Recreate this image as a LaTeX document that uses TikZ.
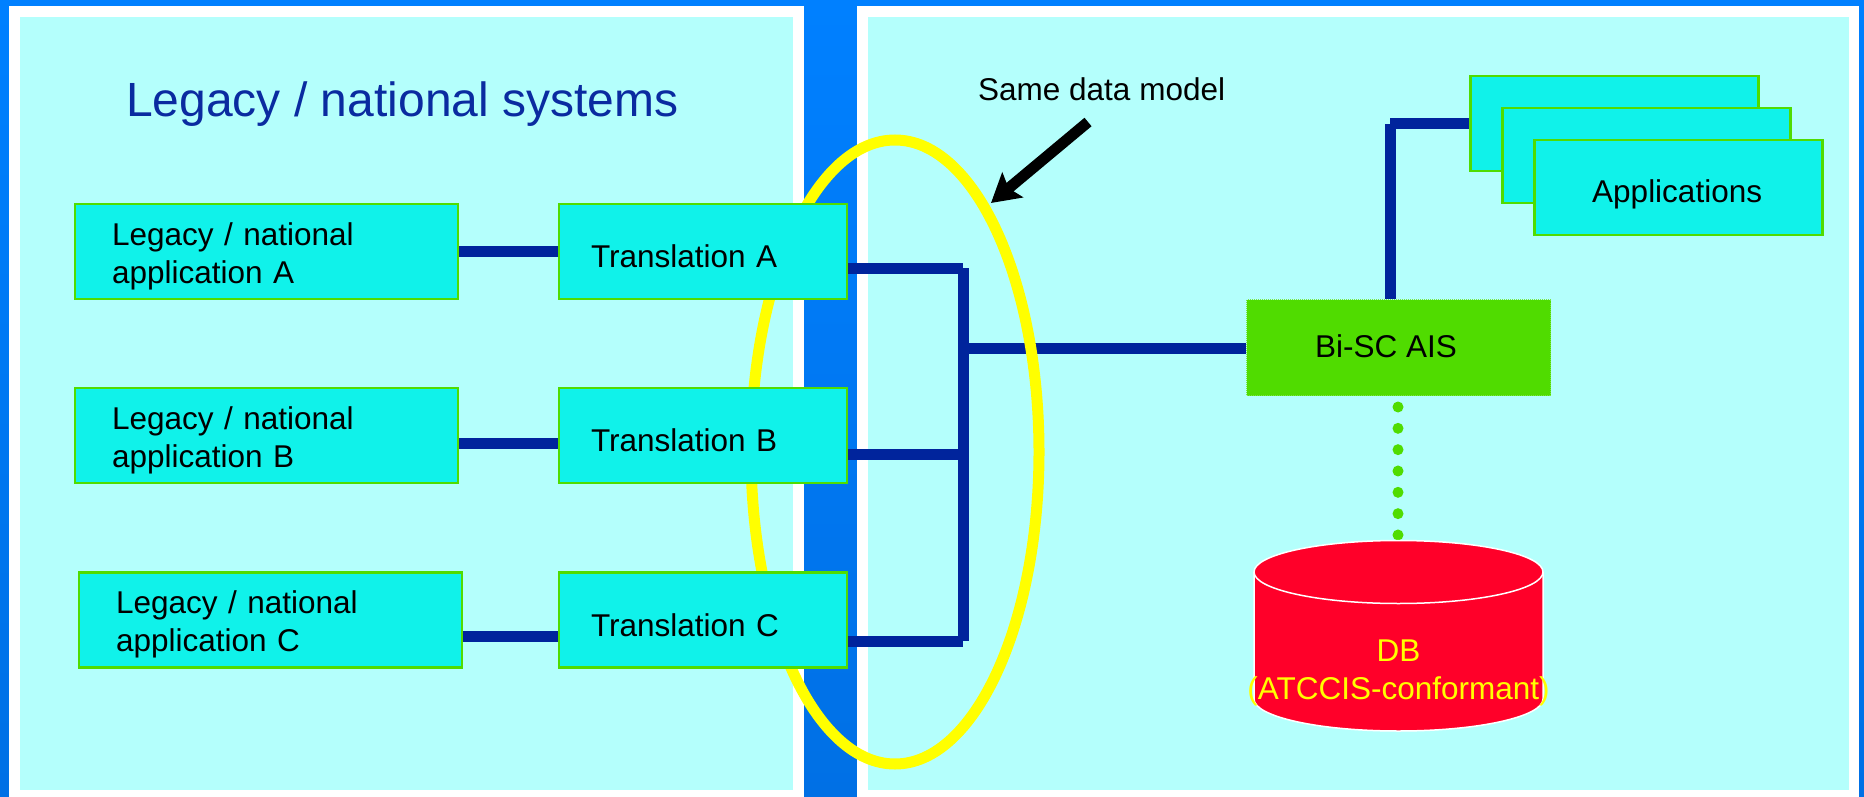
\documentclass[tikz,border=0pt]{standalone}
\usepackage{fontspec}
\setmainfont{Liberation Sans}
\usetikzlibrary{arrows.meta}
\definecolor{panelc}{HTML}{B4FFFC}
\definecolor{boxc}{HTML}{10F2EA}
\definecolor{greenc}{HTML}{50DC00}
\definecolor{redc}{HTML}{FF0029}
\definecolor{wirec}{HTML}{00249C}
\definecolor{titlec}{HTML}{0A2BA0}
\definecolor{yellowc}{HTML}{FFFF00}
\definecolor{stripa}{HTML}{0080FF}
\definecolor{stripb}{HTML}{0070E5}
\newcommand{\bodyfont}{\fontsize{31.5}{38}\selectfont}
\pgfdeclarelayer{panels}
\pgfdeclarelayer{wires}
\pgfsetlayers{panels,wires,main}
\tikzset{
  x=1pt,y=-1pt,
  appbox/.style={draw=greenc,line width=2.5pt,fill=boxc,inner ysep=0pt,font=\bodyfont,align=left,
    minimum height=95pt},
  legacybox/.style={appbox,inner xsep=37pt,text width=309pt},
  transbox/.style={appbox,inner xsep=32pt,text width=224pt},
  wire/.style={draw=wirec,line width=11pt},
  label/.style={font=\bodyfont,anchor=base west,inner sep=0pt},
}
\begin{document}
\begin{tikzpicture}
\useasboundingbox (0,0) rectangle (1864,797);
\begin{pgfonlayer}{panels}
\shade[top color=stripa,bottom color=stripb] (0,0) rectangle (1864,797);
\fill[white] (9,6) rectangle (804,797);
\fill[white] (857,6) rectangle (1859,797);
\fill[panelc] (20,17) rectangle (793,790);
\fill[panelc] (868,17) rectangle (1849,790);
\end{pgfonlayer}
% boxes
\node[legacybox] (la) at (266.5,251.5) {\rule{0pt}{32pt}Legacy / national\\application A};
\node[legacybox] (lb) at (266.5,435.5) {\rule{0pt}{32pt}Legacy / national\\application B};
\node[legacybox] (lc) at (270.5,620) {\rule{0pt}{32pt}Legacy / national\\application C};
\node[transbox] (ta) at (703,251.5) {\rule{0pt}{33pt}Translation A};
\node[transbox] (tb) at (703,435.5) {\rule{0pt}{33pt}Translation B};
\node[transbox] (tc) at (703,620) {\rule{0pt}{33pt}Translation C};
\node[draw=greenc!75!white,line width=1pt,densely dotted,fill=greenc,minimum width=304pt,minimum height=96pt,inner sep=0pt] (bis) at (1398.5,347.5) {};
\node[label] (bistext) at (1315,357) {Bi-SC AIS};
\node[appbox,minimum width=288pt] (ap1) at (1614.5,123.5) {};
\node[appbox,minimum width=288pt] (ap2) at (1646.5,155.5) {};
\node[appbox,minimum width=288pt] (ap3) at (1678.5,187.5) {};
\node[label] (aptext) at (1592,203) {Applications};
% coordinates
\coordinate (j1) at (963,268);
\coordinate (j2) at (963,454);
\coordinate (j3) at (963,641);
\coordinate (j4) at (963,348);
\coordinate (k1) at (1390,124);
\coordinate (ell) at (895,452);
\coordinate (atail) at (1088,122);
\coordinate (ahead) at (991,203);
\coordinate (dot1) at (1398,407);
\coordinate (dot2) at (1398,535);
\begin{pgfonlayer}{wires}
\draw[wire] (ta.east |- j1) -- (j1);
\draw[wire] (tb.east |- j2) -- (j2);
\draw[wire] (tc.east |- j3) -- (j3);
\draw[wire] (j1) -- (j3);
\draw[wire] (j4) -- (bis.west |- j4);
\draw[wire] (la.east) -- (ta.west);
\draw[wire] ([yshift=-7.5pt]lb.east) -- ([yshift=-7.5pt]tb.west);
\draw[wire] ([yshift=-16pt]lc.east) -- ([yshift=-16pt]tc.west);
\draw[wire] (bis.north -| k1) -- (k1);
\draw[wire] (k1) -- (ap1.west |- k1);
\draw[yellowc,line width=11pt] (ell) ellipse [x radius=144,y radius=312];
\end{pgfonlayer}
% title and callout
\node[font=\fontsize{48}{56}\selectfont,text=titlec,anchor=base west,inner sep=0pt] (title) at (126,117) {Legacy / national systems};
\node[label] (same) at (978,101) {Same data model};
\draw[black,line width=11pt,-{Stealth[length=28pt,width=32pt,inset=5pt]}] (atail) -- (ahead);
% dots
\draw[greenc,line width=11pt,line cap=round,dash pattern=on 0pt off 21.33pt] (dot1) -- (dot2);
% database
\path[fill=redc,draw=white,line width=1.5pt] (1254,572) -- (1254,699) arc[start angle=180,end angle=0,x radius=144.5,y radius=32] -- (1543,572) arc[start angle=0,end angle=-180,x radius=144.5,y radius=31.5] -- cycle;
\draw[white,line width=1.5pt] (1254,572) arc[start angle=180,end angle=0,x radius=144.5,y radius=31.5];
\node[font=\bodyfont,text=yellowc,align=center,anchor=base,inner sep=0pt] (db) at (1398.5,699) {DB\\(ATCCIS-conformant)};
\end{tikzpicture}
\end{document}
